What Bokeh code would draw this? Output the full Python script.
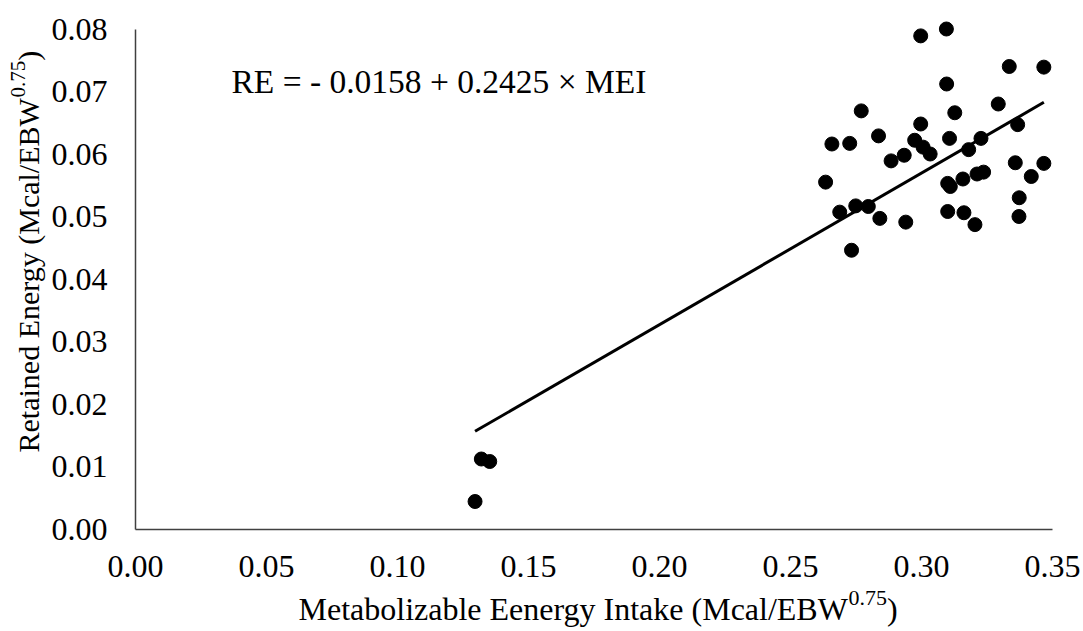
import math
from bokeh.plotting import figure
from bokeh.models import Range1d, Label, FixedTicker, NumeralTickFormatter
from bokeh.embed import file_html
from bokeh.resources import INLINE

# ---- data ----
mei = [0.2997, 0.3095, 0.3335, 0.3467, 0.3096, 0.2770, 0.3127, 0.3293, 0.2997, 0.3367,
       0.2658, 0.2726, 0.2836, 0.2974, 0.3107, 0.3227, 0.3006, 0.3033, 0.3180, 0.2934,
       0.2884, 0.3358, 0.3467, 0.2634, 0.3100, 0.3110, 0.3158, 0.3212, 0.3237, 0.3419,
       0.3373, 0.2688, 0.2749, 0.2797, 0.2841, 0.2940, 0.3100, 0.3162, 0.3204, 0.3372,
       0.2733, 0.1320, 0.1352, 0.1296]
re_vals = [0.0789, 0.0800, 0.0740, 0.0739, 0.0712, 0.0669, 0.0666, 0.0680, 0.0648, 0.0647,
           0.0616, 0.0617, 0.0629, 0.0622, 0.0625, 0.0625, 0.0611, 0.0600, 0.0607, 0.0598,
           0.0589, 0.0586, 0.0585, 0.0555, 0.0553, 0.0548, 0.0560, 0.0568, 0.0571, 0.0564,
           0.0530, 0.0507, 0.0517, 0.0516, 0.0497, 0.0491, 0.0508, 0.0506, 0.0487, 0.0500,
           0.0446, 0.0112, 0.0108, 0.0044]
intercept = -0.0158
slope = 0.2425
x_ticks = [0.00, 0.05, 0.10, 0.15, 0.20, 0.25, 0.30, 0.35]
y_ticks = [0.00, 0.01, 0.02, 0.03, 0.04, 0.05, 0.06, 0.07, 0.08]
equation = "RE = - 0.0158 + 0.2425 × MEI"
x_title = ["Metabolizable Eenergy Intake (Mcal/EBW", "0.75", ")"]
y_title = ["Retained Energy (Mcal/EBW", "0.75", ")"]

FONT = "Liberation Serif"
# Times metrics (per 1000 em) for width estimation
W = {' ': 250, '(': 333, ')': 333, '.': 250, '/': 278, 'B': 667, 'E': 611, 'I': 333,
     'M': 889, 'R': 667, 'W': 944, 'a': 444, 'b': 500, 'c': 444, 'd': 500, 'e': 444,
     'g': 500, 'i': 278, 'k': 500, 'l': 278, 'n': 500, 'o': 500, 'r': 333, 't': 278,
     'y': 500, 'z': 444}
MID = 0.3375  # distance (em) from alphabetic baseline to the middle of the text box


def tw(s, size):
    return sum(W.get(ch, 500) for ch in s) / 1000.0 * size


CW, CH = 1083, 631          # canvas == frame
X0PX, XPU = 135.0, 2620.0   # pixel of x=0, pixels per unit
Y0PX, YPU = 528.5, 6250.0   # pixel (from top) of y=0, pixels per unit

p = figure(frame_width=CW, frame_height=CH,
           x_range=Range1d(-X0PX / XPU, (CW - X0PX) / XPU),
           y_range=Range1d(-(CH - Y0PX) / YPU, Y0PX / YPU),
           output_backend="svg", toolbar_location=None,
           min_border=0, min_border_left=0, min_border_right=0,
           min_border_top=0, min_border_bottom=0)
p.outline_line_color = None
p.xgrid.visible = False
p.ygrid.visible = False
p.background_fill_color = "white"
p.border_fill_color = "white"

for ax, ticks in ((p.xaxis[0], x_ticks), (p.yaxis[0], y_ticks)):
    ax.fixed_location = 0
    ax.ticker = FixedTicker(ticks=ticks)
    ax.formatter = NumeralTickFormatter(format="0.00")
    ax.major_tick_line_color = None
    ax.minor_tick_line_color = None
    ax.major_tick_out = 0
    ax.major_tick_in = 0
    ax.axis_line_color = "#404040"
    ax.axis_line_width = 1.5
    ax.major_label_text_font = FONT
    ax.major_label_text_font_size = "32px"
    ax.major_label_text_color = "black"
p.xaxis[0].bounds = (x_ticks[0], x_ticks[-1])
p.yaxis[0].bounds = (y_ticks[0], y_ticks[-1])
p.xaxis[0].major_label_standoff = 27
p.yaxis[0].major_label_standoff = 28

# regression line
lx = [min(mei), max(mei)]
ly = [intercept + slope * v for v in lx]
p.line(lx, ly, line_color="black", line_width=3)

# points
p.scatter(mei, re_vals, size=14, fill_color="black", line_color="black")


def lab(text, x, y, size, angle=0.0):
    p.add_layout(Label(x=x, y=y, x_units="screen", y_units="screen", text=text, angle=angle,
                       text_font=FONT, text_font_size=f"{size}px", text_color="black",
                       text_align="left", text_baseline="middle"))


# equation (baseline at page y ~92)
ES = 33.5
lab(equation, 231, CH - 92 + MID * ES, ES)

# x title (baseline at page y ~619)
TS, SS, RAISE = 32, 22, 14
x0, base = 298, CH - 619
lab(x_title[0], x0, base + MID * TS, TS)
x1 = x0 + tw(x_title[0], TS)
lab(x_title[1], x1, base + RAISE + MID * SS, SS)
x2 = x1 + tw(x_title[1], SS)
lab(x_title[2], x2, base + MID * TS, TS)

# y title (rotated, baseline at page x ~38, starts at page y ~452)
YS, YSS = 30, 21
ang = math.pi / 2
bx, y0 = 38, CH - 452
lab(y_title[0], bx - MID * YS, y0, YS, ang)
y1 = y0 + tw(y_title[0], YS)
lab(y_title[1], bx - 13 - MID * YSS, y1, YSS, ang)
y2 = y1 + tw(y_title[1], YSS)
lab(y_title[2], bx - MID * YS, y2, YS, ang)

open("out.html", "w").write(file_html(p, INLINE))
